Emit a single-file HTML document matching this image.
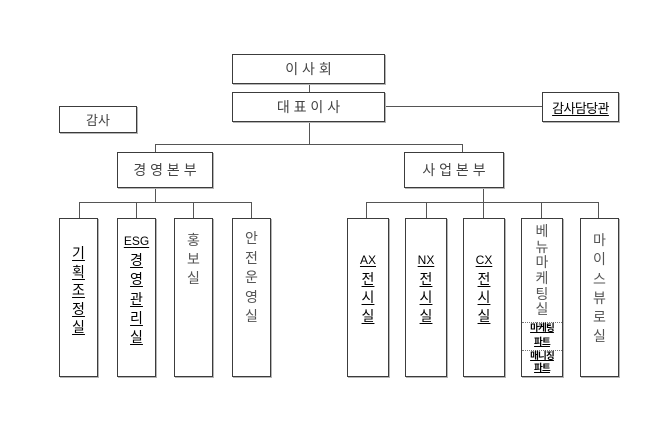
<!DOCTYPE html>
<html>
<head>
<meta charset="utf-8">
<style>
  html,body{margin:0;padding:0;background:#fff;}
  body{width:650px;height:447px;position:relative;overflow:hidden;
       font-family:"Liberation Sans","Noto Sans CJK KR","NanumGothic",sans-serif;}
  svg{position:absolute;left:0;top:0;}
  .box{position:absolute;box-sizing:border-box;border:1px solid #3c3c3c;
       box-shadow:1px 1px 0 #b5b5b5;background:#fff;}
  .h{display:flex;align-items:center;justify-content:center;font-size:14px;color:#444;white-space:pre;}
  .v{position:absolute;left:0;right:0;text-align:center;}
  .v div{text-align:center;white-space:nowrap;}
  .g{color:#555;font-size:14px;}
  .u{color:#000;font-size:14px;}
  .u span{text-decoration:underline;text-underline-offset:2px;}
  .lat{font-size:12px;}
  .sep{position:absolute;left:0;right:0;border-top:1px dotted #777;height:0;}
  .sub{position:absolute;left:0;right:0;text-align:center;font-size:9.5px;font-weight:bold;color:#000;line-height:12px;letter-spacing:-0.8px;}
  .sub span{text-decoration:underline;}
</style>
</head>
<body>
<svg width="650" height="447" viewBox="0 0 650 447">
  <g stroke="#555" stroke-width="1" fill="none" shape-rendering="crispEdges">
    <line x1="309.5" y1="84" x2="309.5" y2="92"/>
    <line x1="385" y1="106.5" x2="542" y2="106.5"/>
    <line x1="309.5" y1="122" x2="309.5" y2="144"/>
    <line x1="155.5" y1="144.5" x2="462.5" y2="144.5"/>
    <line x1="155.5" y1="144" x2="155.5" y2="152"/>
    <line x1="462.5" y1="144" x2="462.5" y2="152"/>
    <line x1="155.5" y1="188" x2="155.5" y2="202"/>
    <line x1="79.5" y1="202.5" x2="251.5" y2="202.5"/>
    <line x1="79.5" y1="202" x2="79.5" y2="218"/>
    <line x1="136.5" y1="202" x2="136.5" y2="218"/>
    <line x1="193.5" y1="202" x2="193.5" y2="218"/>
    <line x1="251.5" y1="202" x2="251.5" y2="218"/>
    <line x1="483.5" y1="188" x2="483.5" y2="202"/>
    <line x1="366.5" y1="202.5" x2="598.5" y2="202.5"/>
    <line x1="366.5" y1="202" x2="366.5" y2="218"/>
    <line x1="426.5" y1="202" x2="426.5" y2="218"/>
    <line x1="483.5" y1="202" x2="483.5" y2="218"/>
    <line x1="541.5" y1="202" x2="541.5" y2="218"/>
    <line x1="598.5" y1="202" x2="598.5" y2="218"/>
  </g>
</svg>

<div class="box h" style="left:232px;top:54px;width:153px;height:30px;">이 사 회</div>
<div class="box h" style="left:232px;top:92px;width:153px;height:30px;">대 표 이 사</div>
<div class="box h" style="left:542px;top:92px;width:77px;height:30px;font-size:13px;color:#000;letter-spacing:-0.6px;"><span style="text-decoration:underline;text-underline-offset:2px;">감사담당관</span></div>
<div class="box h" style="left:59px;top:106px;width:78px;height:27px;font-size:13px;">감사</div>
<div class="box h" style="left:117px;top:152px;width:96px;height:36px;">경 영 본 부</div>
<div class="box h" style="left:404px;top:152px;width:100px;height:36px;">사 업 본 부</div>

<!-- 경영본부 하위 -->
<div class="box" style="left:59px;top:218px;width:39px;height:159px;">
  <div class="v u" style="top:25px;">
    <div style="height:18.5px;line-height:18.5px;"><span>기</span></div>
    <div style="height:18.5px;line-height:18.5px;"><span>획</span></div>
    <div style="height:18.5px;line-height:18.5px;"><span>조</span></div>
    <div style="height:18.5px;line-height:18.5px;"><span>정</span></div>
    <div style="height:18.5px;line-height:18.5px;"><span>실</span></div>
  </div>
</div>
<div class="box" style="left:117px;top:218px;width:39px;height:159px;">
  <div class="v u" style="top:12.5px;">
    <div class="lat" style="height:19.4px;line-height:19.4px;"><span>ESG</span></div>
    <div style="height:19.4px;line-height:19.4px;"><span>경</span></div>
    <div style="height:19.4px;line-height:19.4px;"><span>영</span></div>
    <div style="height:19.4px;line-height:19.4px;"><span>관</span></div>
    <div style="height:19.4px;line-height:19.4px;"><span>리</span></div>
    <div style="height:19.4px;line-height:19.4px;"><span>실</span></div>
  </div>
</div>
<div class="box" style="left:174px;top:218px;width:39px;height:159px;">
  <div class="v g" style="top:12px;">
    <div style="height:19px;line-height:19px;">홍</div>
    <div style="height:19px;line-height:19px;">보</div>
    <div style="height:19px;line-height:19px;">실</div>
  </div>
</div>
<div class="box" style="left:232px;top:218px;width:39px;height:159px;">
  <div class="v g" style="top:10px;">
    <div style="height:19.5px;line-height:19.5px;">안</div>
    <div style="height:19.5px;line-height:19.5px;">전</div>
    <div style="height:19.5px;line-height:19.5px;">운</div>
    <div style="height:19.5px;line-height:19.5px;">영</div>
    <div style="height:19.5px;line-height:19.5px;">실</div>
  </div>
</div>

<!-- 사업본부 하위 -->
<div class="box" style="left:347px;top:218px;width:42px;height:159px;">
  <div class="v u" style="top:32px;">
    <div class="lat" style="height:18.7px;line-height:18.7px;"><span>AX</span></div>
    <div style="height:18.7px;line-height:18.7px;"><span>전</span></div>
    <div style="height:18.7px;line-height:18.7px;"><span>시</span></div>
    <div style="height:18.7px;line-height:18.7px;"><span>실</span></div>
  </div>
</div>
<div class="box" style="left:405px;top:218px;width:42px;height:159px;">
  <div class="v u" style="top:32px;">
    <div class="lat" style="height:18.7px;line-height:18.7px;"><span>NX</span></div>
    <div style="height:18.7px;line-height:18.7px;"><span>전</span></div>
    <div style="height:18.7px;line-height:18.7px;"><span>시</span></div>
    <div style="height:18.7px;line-height:18.7px;"><span>실</span></div>
  </div>
</div>
<div class="box" style="left:463px;top:218px;width:42px;height:159px;">
  <div class="v u" style="top:32px;">
    <div class="lat" style="height:18.7px;line-height:18.7px;"><span>CX</span></div>
    <div style="height:18.7px;line-height:18.7px;"><span>전</span></div>
    <div style="height:18.7px;line-height:18.7px;"><span>시</span></div>
    <div style="height:18.7px;line-height:18.7px;"><span>실</span></div>
  </div>
</div>
<div class="box" style="left:521px;top:218px;width:42px;height:159px;">
  <div class="v g" style="top:5px;">
    <div style="height:15.7px;line-height:15.7px;">베</div>
    <div style="height:15.7px;line-height:15.7px;">뉴</div>
    <div style="height:15.7px;line-height:15.7px;">마</div>
    <div style="height:15.7px;line-height:15.7px;">케</div>
    <div style="height:15.7px;line-height:15.7px;">팅</div>
    <div style="height:15.7px;line-height:15.7px;">실</div>
  </div>
  <div class="sep" style="top:103px;"></div>
  <div class="sub" style="top:104px;"><span>마케팅</span></div>
  <div class="sub" style="top:118px;"><span>파트</span></div>
  <div class="sep" style="top:131px;"></div>
  <div class="sub" style="top:131.5px;"><span>매니징</span></div>
  <div class="sub" style="top:144px;"><span>파트</span></div>
</div>
<div class="box" style="left:580px;top:218px;width:39px;height:159px;">
  <div class="v g" style="top:12px;">
    <div style="height:19.3px;line-height:19.3px;">마</div>
    <div style="height:19.3px;line-height:19.3px;">이</div>
    <div style="height:19.3px;line-height:19.3px;">스</div>
    <div style="height:19.3px;line-height:19.3px;">뷰</div>
    <div style="height:19.3px;line-height:19.3px;">로</div>
    <div style="height:19.3px;line-height:19.3px;">실</div>
  </div>
</div>
</body>
</html>
